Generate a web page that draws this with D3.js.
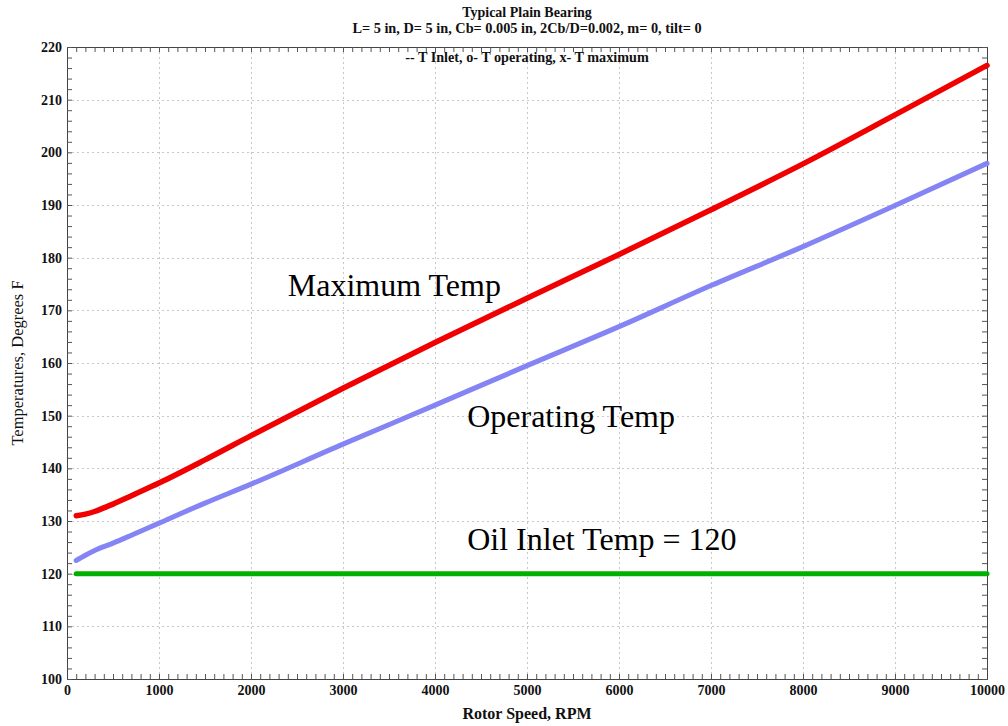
<!DOCTYPE html>
<html>
<head>
<meta charset="utf-8">
<script src="https://cdn.jsdelivr.net/npm/d3@7"></script>
<style>
  html, body { margin: 0; padding: 0; background: #fff; }
  svg { display: block; }
  text { font-family: "Liberation Serif", "Times New Roman", serif; }
</style>
</head>
<body>
<svg id="chart" width="1008" height="726"></svg>
<script>
// Bearing temperatures versus rotor speed
const rpmMax   = [100, 200, 300, 400, 500, 700, 1000, 1500, 2000, 3000, 4000, 5000, 6000, 7000, 8000, 9000, 10000];
const tMaximum = [131.0, 131.3, 131.8, 132.5, 133.2, 134.8, 137.2, 141.6, 146.2, 155.2, 163.9, 172.3, 180.6, 189.1, 197.8, 207.1, 216.5];

const rpmOp      = [100, 200, 300, 500, 700, 1000, 1500, 2000, 3000, 4000, 5000, 6000, 7000, 8000, 9000, 10000];
const tOperating = [122.5, 123.5, 124.4, 125.8, 127.3, 129.6, 133.4, 137.0, 144.6, 152.0, 159.5, 166.9, 174.7, 182.1, 189.9, 197.9];

const rpmInlet = [100, 10000];
const tInlet   = [120, 120];

const xTicks = [0, 1000, 2000, 3000, 4000, 5000, 6000, 7000, 8000, 9000, 10000];
const yTicks = [100, 110, 120, 130, 140, 150, 160, 170, 180, 190, 200, 210, 220];

const titleText    = "Typical Plain Bearing";
const subtitleText = "L= 5 in, D= 5 in, Cb= 0.005 in, 2Cb/D=0.002, m= 0, tilt= 0";
const legendText   = "-- T Inlet, o- T operating, x- T maximum";
const xLabel = "Rotor Speed, RPM";
const yLabel = "Temperatures, Degrees F";

const svg = d3.select("#chart");
const plotL = 67, plotR = 987, plotT = 47, plotB = 679;

const x = d3.scaleLinear().domain([0, 10000]).range([plotL, plotR]);
const y = d3.scaleLinear().domain([100, 220]).range([plotB, plotT]);

// dotted grid
const grid = svg.append("g").attr("stroke", "#c8c8c8").attr("stroke-width", 1)
  .attr("stroke-dasharray", "2,3").attr("shape-rendering", "crispEdges");
grid.selectAll("line.gx").data(xTicks.slice(1, -1)).join("line")
  .attr("x1", d => Math.round(x(d)) + 0.5).attr("x2", d => Math.round(x(d)) + 0.5)
  .attr("y1", plotT).attr("y2", plotB);
grid.selectAll("line.gy").data(yTicks.slice(1, -1)).join("line")
  .attr("y1", d => Math.round(y(d)) + 0.5).attr("y2", d => Math.round(y(d)) + 0.5)
  .attr("x1", plotL).attr("x2", plotR);

// frame: minor ticks point inward on all four sides
const minorX = d3.range(0, 10001, 100);
const minorY = d3.range(100, 221, 2);

function frameAxis(axis, scale, pos, values) {
  return svg.append("g").attr("transform", pos)
    .call(axis(scale).tickValues(values).tickSize(5).tickFormat(""))
    .call(g => g.select(".domain").attr("stroke", "#444"))
    .call(g => g.selectAll(".tick line").attr("stroke", "#555"));
}
frameAxis(d3.axisTop, x, `translate(0,${plotB})`, minorX);
frameAxis(d3.axisBottom, x, `translate(0,${plotT})`, minorX);
frameAxis(d3.axisRight, y, `translate(${plotL},0)`, minorY);
frameAxis(d3.axisLeft, y, `translate(${plotR},0)`, minorY);

// tick labels on the bottom and left
function styleLabels(g) {
  g.select(".domain").remove();
  g.selectAll(".tick line").remove();
  g.selectAll(".tick text").attr("fill", "#111")
    .style("font-family", "'Liberation Serif', serif").style("font-size", "14px").style("font-weight", "bold");
}
svg.append("g").attr("transform", `translate(0,${plotB})`)
  .call(d3.axisBottom(x).tickValues(xTicks).tickSize(0).tickPadding(6).tickFormat(d3.format("d")))
  .call(styleLabels);
svg.append("g").attr("transform", `translate(${plotL},0)`)
  .call(d3.axisLeft(y).tickValues(yTicks).tickSize(0).tickPadding(5).tickFormat(d3.format("d")))
  .call(styleLabels);

// curves
const line = d3.line().x(d => x(d[0])).y(d => y(d[1])).curve(d3.curveMonotoneX);
const series = [
  { rpm: rpmInlet, t: tInlet, color: "#00b000", w: 5 },
  { rpm: rpmOp, t: tOperating, color: "#8484f4", w: 5 },
  { rpm: rpmMax, t: tMaximum, color: "#f00000", w: 5.5 }
];
svg.append("g").selectAll("path").data(series).join("path")
  .attr("d", s => line(s.rpm.map((r, i) => [r, s.t[i]])))
  .attr("fill", "none").attr("stroke", s => s.color).attr("stroke-width", s => s.w)
  .attr("stroke-linecap", "round").attr("stroke-linejoin", "round");

// titles
const cx = (plotL + plotR) / 2;
svg.append("text").attr("x", cx).attr("y", 17).attr("text-anchor", "middle")
  .style("font-size", "14px").style("font-weight", "bold").attr("fill", "#111").text(titleText);
svg.append("text").attr("x", cx).attr("y", 33).attr("text-anchor", "middle")
  .style("font-size", "14.3px").style("font-weight", "bold").attr("fill", "#111").text(subtitleText);
svg.append("text").attr("x", cx).attr("y", 62).attr("text-anchor", "middle")
  .style("font-size", "14.2px").style("font-weight", "bold").attr("fill", "#111").text(legendText);

svg.append("text").attr("x", cx).attr("y", 719).attr("text-anchor", "middle")
  .style("font-size", "16px").style("font-weight", "bold").attr("fill", "#111").text(xLabel);
svg.append("text").attr("transform", `translate(23,${(plotT + plotB) / 2}) rotate(-90)`)
  .attr("text-anchor", "middle")
  .style("font-size", "16.5px").attr("fill", "#111").text(yLabel);

// curve annotations
const notes = [
  { text: "Maximum Temp", rpm: 2400, t: 172.7 },
  { text: "Operating Temp", rpm: 4350, t: 147.8 },
  { text: "Oil Inlet Temp = 120", rpm: 4350, t: 124.4 }
];
svg.append("g").selectAll("text").data(notes).join("text")
  .attr("x", d => x(d.rpm)).attr("y", d => y(d.t))
  .style("font-size", "32px").attr("fill", "#000").text(d => d.text);
</script>
</body>
</html>
